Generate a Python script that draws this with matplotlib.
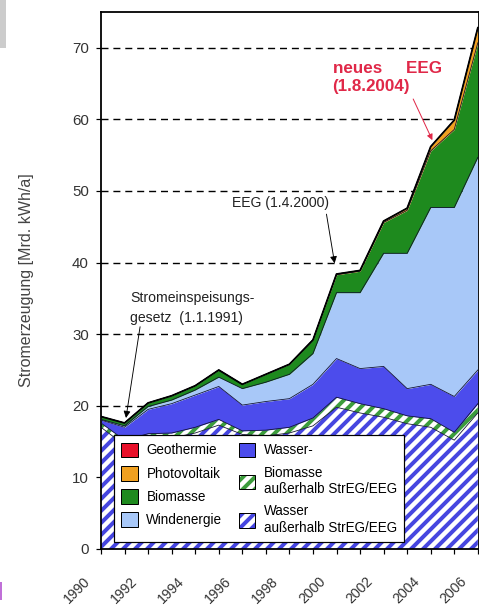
import matplotlib
matplotlib.use("Agg")
import matplotlib.pyplot as plt
import matplotlib.transforms as mtransforms
import numpy as np
from matplotlib.patches import Patch, Rectangle

plt.rcParams['font.family'] = ['Liberation Sans', 'DejaVu Sans']
plt.rcParams['hatch.linewidth'] = 4.0

# data (Mrd. kWh/a)
years = np.arange(1990, 2007)
wasser_aus = [17.0, 14.5, 15.5, 15.5, 16.2, 17.3, 16.0, 15.8, 16.2, 17.2, 19.8, 19.0, 18.4, 17.5, 17.0, 15.2, 19.0]
bio_aus = [0.6, 0.7, 0.6, 0.7, 0.8, 0.8, 0.5, 0.8, 0.8, 1.1, 1.4, 1.3, 1.2, 1.1, 1.2, 1.1, 1.3]
wasser = [0.4, 1.8, 3.4, 4.1, 4.5, 4.6, 3.6, 4.0, 4.0, 4.7, 5.4, 4.9, 5.9, 3.8, 4.8, 5.0, 4.7]
wind = [0.1, 0.2, 0.4, 0.5, 0.7, 1.3, 2.3, 2.7, 3.4, 4.3, 9.2, 10.6, 15.8, 18.9, 24.7, 26.4, 29.7]
biomasse = [0.4, 0.4, 0.5, 0.6, 0.6, 1.0, 0.6, 1.1, 1.4, 1.9, 2.5, 3.0, 4.3, 6.0, 7.9, 10.9, 16.0]
pv = [0, 0, 0, 0, 0, 0, 0, 0, 0, 0, 0.1, 0.1, 0.2, 0.3, 0.6, 1.3, 2.1]
geo = [0] * 17
label_years = list(range(1990, 2007, 2))

c_red = '#e8102a'
c_orange = '#f0a020'
c_green = '#1e8a1e'
c_lblue = '#a8c8f8'
c_blue = '#4c4cec'
c_hblue = '#4646e0'
c_hgreen = '#3c9c3c'

fig = plt.figure(figsize=(479/72, 608/72), dpi=72)
ax = fig.add_axes([101/479, 59/608, 378/479, 537/608])

layers = [
    (wasser_aus, dict(facecolor='white', edgecolor=c_hblue, hatch='//')),
    (bio_aus, dict(facecolor='white', edgecolor=c_hgreen, hatch='//')),
    (wasser, dict(facecolor=c_blue, edgecolor=c_blue)),
    (wind, dict(facecolor=c_lblue, edgecolor=c_lblue)),
    (biomasse, dict(facecolor=c_green, edgecolor=c_green)),
    (pv, dict(facecolor=c_orange, edgecolor=c_orange)),
    (geo, dict(facecolor=c_red, edgecolor=c_red)),
]
base = np.zeros(len(years))
for vals, st in layers:
    top = base + np.array(vals)
    ax.fill_between(years, base, top, linewidth=0, zorder=2, **st)
    ax.plot(years, top, color='#101030', lw=0.8, zorder=3)
    base = top
ax.plot(years, base, color='black', lw=1.8, zorder=4)

ax.set_xlim(1990, 2006.05)
ax.set_ylim(0, 75)
ax.set_yticks(range(0, 80, 10))
ax.set_xticks(label_years)
ax.set_xticks(years, minor=True)
ax.set_xticklabels([])
# rotated year labels, set off to the lower left of their ticks
shift = mtransforms.ScaledTranslation(-24/72, -41/72, fig.dpi_scale_trans)
for y in label_years:
    ax.text(y, 0, str(y), transform=ax.get_xaxis_transform() + shift, rotation=45,
            ha='center', va='center', fontsize=14, color='#333333', clip_on=False)
ax.tick_params(axis='y', labelsize=15, labelcolor='#333333', length=5, width=1.2, pad=7)
ax.tick_params(axis='x', which='both', length=5, width=1.2, pad=6)
ax.yaxis.grid(True, linestyle=(0, (5, 3.5)), color='black', lw=1.4, zorder=1)
ax.set_axisbelow(True)
for s in ax.spines.values():
    s.set_linewidth(1.8)
ax.set_ylabel('Stromerzeugung [Mrd. kWh/a]', fontsize=16, color='#444444', labelpad=38)

# annotations
ax.annotate('Stromeinspeisungs-\ngesetz  (1.1.1991)', xy=(1991.06, 18.3), xytext=(1991.25, 36.0),
            fontsize=14, color='#222222', va='top', ha='left', linespacing=1.5,
            arrowprops=dict(arrowstyle='-|>', color='black', lw=0.9, mutation_scale=14,
                            shrinkA=0, shrinkB=0, relpos=(0.08, 0)))
ax.annotate('EEG (1.4.2000)', xy=(1999.92, 39.9), xytext=(1995.55, 48.3),
            fontsize=14, color='#222222', va='center', ha='left',
            arrowprops=dict(arrowstyle='-|>', color='black', lw=0.9, mutation_scale=14,
                            shrinkA=2, shrinkB=0, relpos=(0.97, 0)))
ax.annotate('neues     EEG\n(1.8.2004)', xy=(2004.07, 57.1), xytext=(1999.83, 68.2),
            fontsize=17, color='#e02848', fontweight='bold', va='top', ha='left', linespacing=1.3,
            arrowprops=dict(arrowstyle='-|>', color='#e02848', lw=1.0, mutation_scale=12,
                            shrinkA=3, shrinkB=0, relpos=(0.72, 0)))

# legend
def hatched(col):
    return (Patch(facecolor='white', edgecolor=col, hatch='//', lw=0),
            Patch(facecolor='none', edgecolor='black', lw=1))

handles = [Patch(facecolor=c_red, edgecolor='black'),
           Patch(facecolor=c_orange, edgecolor='black'),
           Patch(facecolor=c_green, edgecolor='black'),
           Patch(facecolor=c_lblue, edgecolor='black'),
           Patch(facecolor=c_blue, edgecolor='black'),
           hatched(c_hgreen),
           hatched(c_hblue)]
labels = ['Geothermie', 'Photovoltaik', 'Biomasse', 'Windenergie', 'Wasser-',
          'Biomasse\naußerhalb StrEG/EEG', 'Wasser\naußerhalb StrEG/EEG']
leg = ax.legend(handles, labels, ncol=2, loc='lower left',
                bbox_to_anchor=(114/479, 66/608), bbox_transform=fig.transFigure,
                borderaxespad=0, fontsize=13.5, frameon=True, fancybox=False,
                edgecolor='black', framealpha=1,
                handlelength=1.25, handleheight=1.3, labelspacing=0.62, columnspacing=1.2,
                handletextpad=0.6, borderpad=0.55)
leg.get_frame().set_linewidth(1.2)
leg.set_zorder(5)

# small artifacts at the image edges
fig.patches.append(Rectangle((0, 560/608), 6/479, 48/608, transform=fig.transFigure,
                             facecolor='#cccccc', edgecolor='none'))
fig.patches.append(Rectangle((0, 8/608), 2/479, 18/608, transform=fig.transFigure,
                             facecolor='#c070d8', edgecolor='none'))

fig.savefig('out.png', dpi=72)
